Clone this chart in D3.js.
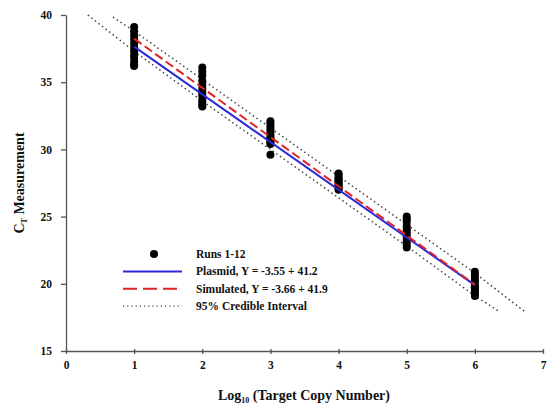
<!DOCTYPE html>
<html>
<head>
<meta charset="utf-8">
<script src="https://cdn.jsdelivr.net/npm/d3@7.9.0/dist/d3.min.js"></script>
<style>
  body { margin: 0; background: #fff; }
  text { font-family: "Liberation Serif", "Times New Roman", serif; font-weight: bold; fill: #111; }
</style>
</head>
<body>
<svg id="chart" width="548" height="408"></svg>
<script>
// dilution levels (log10 copies) and the 12 runs at each level
const levels = [1, 2, 3, 4, 5, 6];
const runs = [
  [39.1, 38.8, 38.5, 38.2, 37.9, 37.6, 37.3, 37.0, 36.8, 36.5, 36.3, 36.2],
  [36.1, 35.8, 35.5, 35.1, 34.8, 34.5, 34.2, 34.0, 33.7, 33.5, 33.3, 33.2],
  [32.1, 31.9, 31.7, 31.5, 31.3, 31.1, 30.9, 30.8, 30.6, 30.5, 30.4, 29.6],
  [28.2, 28.1, 27.9, 27.8, 27.7, 27.6, 27.5, 27.4, 27.3, 27.2, 27.1, 27.0],
  [25.0, 24.8, 24.6, 24.3, 24.1, 23.9, 23.7, 23.5, 23.3, 23.1, 22.9, 22.7],
  [20.9, 20.7, 20.5, 20.3, 20.2, 20.0, 19.8, 19.7, 19.5, 19.4, 19.2, 19.1]
];

// fitted lines: slope, intercept
const plasmidFit = [-3.55, 41.2];
const simulatedFit = [-3.66, 41.9];

// 95% credible interval bounds (x, y)
const ciUpperX = [0.69, 1, 2, 3, 4, 5, 6, 6.74];
const ciUpperY = [39.85, 38.8, 35.2, 31.6, 28.0, 24.4, 20.8, 17.9];
const ciLowerX = [0.32, 1, 2, 3, 4, 5, 6, 6.37];
const ciLowerY = [40.0, 37.3, 33.6, 30.0, 26.4, 22.8, 19.1, 17.9];

const xTicks = [0, 1, 2, 3, 4, 5, 6, 7];
const yTicks = [15, 20, 25, 30, 35, 40];

const svg = d3.select('#chart');
const x = d3.scaleLinear().domain([0, 7]).range([66, 543]);
const y = d3.scaleLinear().domain([15, 40]).range([351, 15]);

// axes
let xAxis = svg.append('g')
  .attr('transform', `translate(0,${y(15)})`)
  .call(d3.axisBottom(x).tickValues(xTicks).tickFormat(d3.format('d'))
    .tickSize(3).tickSizeOuter(0).tickPadding(7));
let yAxis = svg.append('g')
  .attr('transform', `translate(${x(0)},0)`)
  .call(d3.axisLeft(y).tickValues(yTicks).tickFormat(d3.format('d'))
    .tickSize(5).tickSizeOuter(0).tickPadding(9));
[xAxis, yAxis].forEach((g) => {
  g.selectAll('path, line').attr('stroke', '#555').attr('stroke-width', 1.3);
  g.selectAll('text').attr('font-size', 11.5);
});
xAxis.selectAll('line').attr('y1', -2);

// credible interval
let line = d3.line().x((d) => x(d[0])).y((d) => y(d[1]));
[[ciUpperX, ciUpperY], [ciLowerX, ciLowerY]].forEach(([xs, ys]) => {
  svg.append('path')
    .attr('d', line(xs.map((v, i) => [v, ys[i]])))
    .attr('fill', 'none')
    .attr('stroke', '#444')
    .attr('stroke-width', 1.5)
    .attr('stroke-dasharray', '1.5,3');
});

// data points
levels.forEach((lv, i) => {
  svg.append('g').selectAll('circle')
    .data(runs[i])
    .join('circle')
    .attr('cx', x(lv))
    .attr('cy', (d) => y(d))
    .attr('r', 4)
    .attr('fill', '#000');
});

// regression lines
let fitLine = (f) => line([[1, f[0] * 1 + f[1]], [6, f[0] * 6 + f[1]]]);
svg.append('path').attr('d', fitLine(plasmidFit))
  .attr('stroke', '#2a2ad8').attr('stroke-width', 2).attr('fill', 'none');
svg.append('path').attr('d', fitLine(simulatedFit))
  .attr('stroke', '#e02424').attr('stroke-width', 2).attr('fill', 'none')
  .attr('stroke-dasharray', '9,4');

// legend
const legend = svg.append('g');
const legendLabels = ['Runs 1-12', 'Plasmid, Y = -3.55 + 41.2', 'Simulated, Y = -3.66 + 41.9', '95% Credible Interval'];
legendLabels.forEach((label, i) => {
  let ly = 254 + i * 17.4;
  legend.append('text').attr('x', 196).attr('y', ly + 4).attr('font-size', 11.5).text(label);
});
legend.append('circle').attr('cx', 154).attr('cy', 254).attr('r', 4).attr('fill', '#000');
legend.append('line').attr('x1', 123).attr('x2', 182).attr('y1', 271.4).attr('y2', 271.4)
  .attr('stroke', '#2a2ad8').attr('stroke-width', 2);
legend.append('line').attr('x1', 123).attr('x2', 182).attr('y1', 288.8).attr('y2', 288.8)
  .attr('stroke', '#e02424').attr('stroke-width', 2).attr('stroke-dasharray', '14,6');
legend.append('line').attr('x1', 123).attr('x2', 182).attr('y1', 306.2).attr('y2', 306.2)
  .attr('stroke', '#444').attr('stroke-width', 1.2).attr('stroke-dasharray', '1.2,3');

// axis titles
let xt = svg.append('text').attr('x', 304).attr('y', 400).attr('text-anchor', 'middle').attr('font-size', 14);
xt.append('tspan').text('Log');
xt.append('tspan').attr('font-size', 8).attr('dy', 3).text('10');
xt.append('tspan').attr('dy', -3).text(' (Target Copy Number)');

let yt = svg.append('text').attr('transform', 'translate(24,183) rotate(-90)')
  .attr('text-anchor', 'middle').attr('font-size', 14);
yt.append('tspan').text('C');
yt.append('tspan').attr('font-size', 8).attr('dy', 3).text('T');
yt.append('tspan').attr('dy', -3).text(' Measurement');
</script>
</body>
</html>
